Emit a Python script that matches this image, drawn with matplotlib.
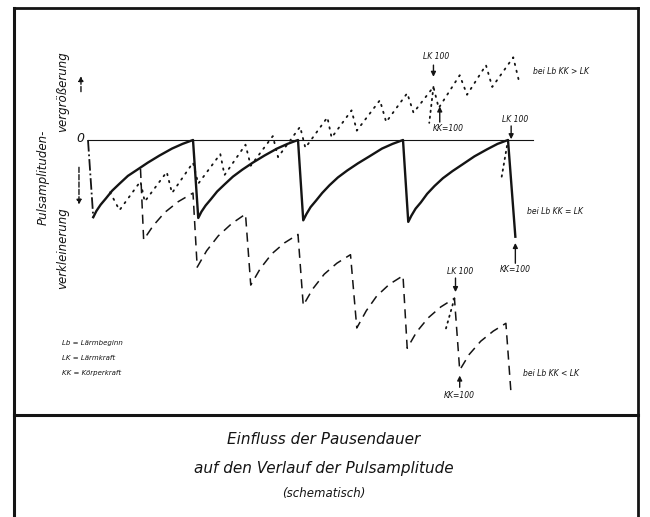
import matplotlib
matplotlib.use('Agg')
import matplotlib.pyplot as plt
from matplotlib.lines import Line2D

# schematic units: t = time (solid pause = 10), a = pulse amplitude change (solid min = -100)

# first common drop at noise onset
drop_t = [0.0, 0.5]
drop_a = [0, -99]

# bei Lb KK = LK (solid)
solid_t = [0.5, 0.8, 1.2, 1.7, 2.3, 3.0, 3.8, 4.7, 5.7, 6.8, 8.0, 9.0, 10.0,
           10.5, 10.8, 11.2, 11.7, 12.3, 13.0, 13.8, 14.7, 15.7, 16.8, 18.0, 19.0, 20.0,
           20.5, 20.8, 21.2, 21.7, 22.3, 23.0, 23.8, 24.7, 25.7, 26.8, 28.0, 29.0, 30.0,
           30.5, 30.8, 31.2, 31.7, 32.3, 33.0, 33.8, 34.7, 35.7, 36.8, 38.0, 39.0, 40.0,
           40.7]
solid_a = [-99, -91, -83, -75, -65, -56, -46, -38, -29, -20, -11, -5, 0,
           -100, -92, -84, -76, -66, -57, -47, -38, -29, -20, -11, -5, 0,
           -103, -95, -86, -78, -68, -58, -48, -39, -30, -21, -11, -5, 0,
           -105, -97, -88, -80, -69, -59, -49, -40, -31, -21, -12, -5, 0,
           -124]

# bei Lb KK < LK (dashed)
dashed_t = [5.0, 5.3, 6.2, 7.3, 8.6, 10.0,
            10.4, 11.3, 12.4, 13.7, 15.0,
            15.5, 16.4, 17.5, 18.7, 20.0,
            20.5, 21.4, 22.5, 23.7, 25.0,
            25.6, 26.5, 27.5, 28.7, 30.0,
            30.4, 31.3, 32.4, 33.6, 34.9,
            35.4, 36.3, 37.4, 38.6, 39.8, 40.3]
dashed_a = [-37, -128, -110, -93, -79, -68,
            -163, -142, -123, -107, -95,
            -186, -165, -146, -132, -121,
            -212, -191, -172, -158, -147,
            -241, -219, -200, -185, -174,
            -267, -246, -228, -214, -203,
            -295, -275, -258, -245, -235, -327]

# bei Lb KK > LK (dotted)
dotted_t = [2.1, 3.0, 5.0, 5.4, 7.5, 8.0, 10.0, 10.5, 12.6, 13.0, 15.0, 15.5,
            17.6, 18.1, 20.2, 20.7, 22.8, 23.2, 25.1, 25.6, 27.8, 28.4, 30.4,
            31.0, 32.9, 33.4, 35.4, 36.1, 37.9, 38.5, 40.5, 41.0]
dotted_a = [-67, -90, -53, -79, -41, -68, -29, -56, -18, -45, -6, -33,
            5, -22, 17, -10, 29, 3, 38, 12, 51, 23, 60,
            35, 68, 41, 83, 58, 96, 68, 106, 78]

# short dotted branches at LK 100
branch_t = [[32.9, 32.5], [34.9, 34.0], [40.0, 39.4]]
branch_a = [[68, 22], [-203, -246], [0, -47]]

legend_lines = ['Lb = Lärmbeginn', 'LK = Lärmkraft', 'KK = Körperkraft']
curve_labels = ['bei Lb KK > LK', 'bei Lb KK = LK', 'bei Lb KK < LK']
title_lines = ['Einfluss der Pausendauer', 'auf den Verlauf der Pulsamplitude']

W, H = 650, 517
INK = '#141414'

fig = plt.figure(figsize=(6.5, 5.17), dpi=100)
ax = fig.add_axes([0, 0, 1, 1])
ax.set_xlim(-88 / 10.5, (W - 88) / 10.5)
ax.set_ylim(-(H - 140) / 0.78, 140 / 0.78)
ax.axis('off')


def fline(xs, ys, lw=2.0):
    fig.add_artist(Line2D([x / W for x in xs], [1 - y / H for y in ys], color=INK, lw=lw))


def ftext(x, y, s, size, ha='center', **kw):
    fig.text(x / W, 1 - y / H, s, fontsize=size, ha=ha, va='center', style='italic', color=INK, **kw)


def arrow(t, a_tail, a_tip, ls='-'):
    ax.annotate('', xy=(t, a_tip), xytext=(t, a_tail),
                arrowprops=dict(arrowstyle='-|>', color=INK, lw=1.0, mutation_scale=7,
                                shrinkA=0, shrinkB=0, linestyle=ls))


# frame
fline([14, 14], [8, 517], 2.2)
fline([14, 638], [8, 8], 2.0)
fline([638, 638], [8, 517], 2.0)
fline([14, 638], [415, 415], 2.2)

# zero line
ax.plot([0, 42.4], [0, 0], color=INK, lw=0.8)

# curves
ax.plot(drop_t, drop_a, color=INK, lw=1.3, linestyle='-.')
ax.plot(solid_t, solid_a, color=INK, lw=1.7, solid_joinstyle='round')
ax.plot(dashed_t, dashed_a, color=INK, lw=1.1, linestyle=(0, (6, 4)))
ax.plot(dotted_t, dotted_a, color=INK, lw=1.3, linestyle=(0, (0.8, 3.2)), dash_capstyle='round')
for bt, ba in zip(branch_t, branch_a):
    ax.plot(bt, ba, color=INK, lw=1.3, linestyle=(0, (0.8, 2.5)), dash_capstyle='round')

# LK / KK markers
arrow(32.9, 96, 81)
ax.text(33.2, 107, 'LK 100', fontsize=5.5, style='italic', ha='center', va='center', color=INK)
arrow(33.5, 23, 43)
ax.text(34.3, 15, 'KK=100', fontsize=5.5, style='italic', ha='center', va='center', color=INK)

arrow(40.3, 18, 1)
ax.text(40.7, 26, 'LK 100', fontsize=5.5, style='italic', ha='center', va='center', color=INK)
arrow(40.7, -158, -132)
ax.text(40.7, -166, 'KK=100', fontsize=5.5, style='italic', ha='center', va='center', color=INK)

arrow(35.0, -177, -195)
ax.text(35.4, -169, 'LK 100', fontsize=5.5, style='italic', ha='center', va='center', color=INK)
arrow(35.4, -317, -302)
ax.text(35.4, -327, 'KK=100', fontsize=5.5, style='italic', ha='center', va='center', color=INK)

# curve labels
for (t, a), s in zip([(42.4, 88), (41.8, -92), (41.4, -299)], curve_labels):
    ax.text(t, a, s, fontsize=5.5, style='italic', ha='left', va='center', color=INK)

# y axis labels and arrows
ftext(80, 138, '0', 9)
arrow(-0.67, 62, 82, ls='--')
arrow(-0.86, -35, -83, ls='--')
ftext(43, 177, 'Pulsamplituden-', 8.5, rotation=90)
ftext(63, 92, 'vergrößerung', 8.5, rotation=90)
ftext(63, 248, 'verkleinerung', 8.5, rotation=90)

# legend
for i, s in enumerate(legend_lines):
    ftext(62, 343 + 15 * i, s, 5, ha='left')

# title block
ftext(324, 440, title_lines[0], 11)
ftext(324, 468, title_lines[1], 11)
ftext(324, 493, '(schematisch)', 8.5)

fig.savefig('out.png', dpi=100, facecolor='white')
